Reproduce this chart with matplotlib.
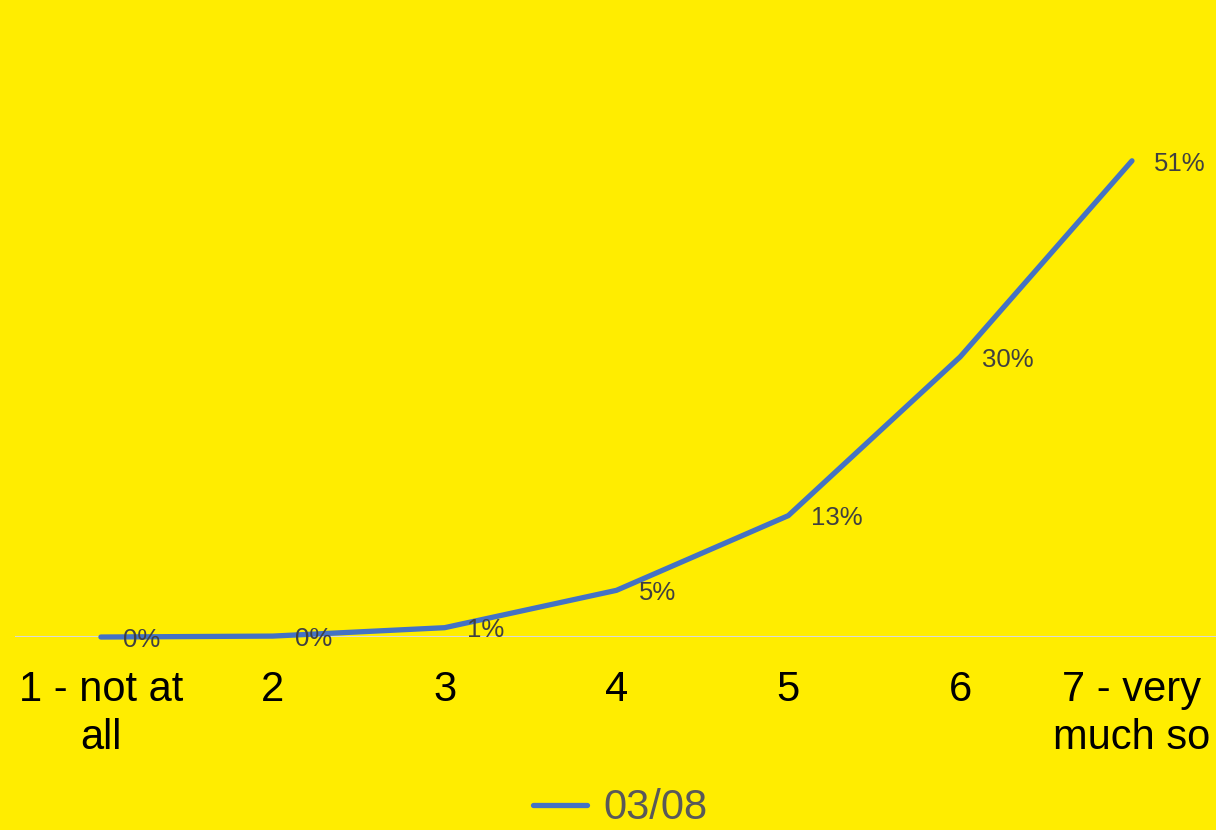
import matplotlib
matplotlib.use("Agg")
import matplotlib.pyplot as plt

plt.rcParams['font.family'] = ['Liberation Sans', 'DejaVu Sans']

categories = ["1 - not at\nall", "2", "3", "4", "5", "6", "7 - very\nmuch so"]
values = [0.0, 0.1, 1.0, 5.0, 13.0, 30.0, 51.0]
series_name = "03/08"

bg = "#FFED00"
line_color = "#4472C4"

fig = plt.figure(figsize=(12.16, 8.3), dpi=100, facecolor=bg)
ax = fig.add_axes([15 / 1216, 0.2325, 1201 / 1216, 0.675], facecolor=bg)

x = list(range(len(categories)))
ax.plot(x, values, color=line_color, lw=3.8, solid_capstyle='round',
        solid_joinstyle='round', label=series_name, clip_on=False, zorder=3)

# data labels right of each point
for i, v in enumerate(values):
    ax.annotate(f"{v:.0f}%", (i, v), xytext=(16, -2), textcoords='offset points',
                ha='left', va='center', fontsize=18.5, color='#404040', zorder=4)

ax.set_xlim(-0.5, 6 + 84 / 171.8)
ax.set_ylim(0, 60)
ax.axhline(0, color='#D9D9D9', lw=1.5, zorder=1)

ax.set_xticks(x)
ax.set_xticklabels(categories, fontsize=30, color='black', linespacing=1.25)
ax.tick_params(axis='x', length=0, pad=24)
ax.set_yticks([])
for s in ax.spines.values():
    s.set_visible(False)

fig.legend(loc='center', bbox_to_anchor=(0.51, 0.026), frameon=False,
           fontsize=30, labelcolor='#595959', handlelength=1.3,
           handletextpad=0.4)

fig.savefig("out.png", dpi=100, facecolor=bg)
